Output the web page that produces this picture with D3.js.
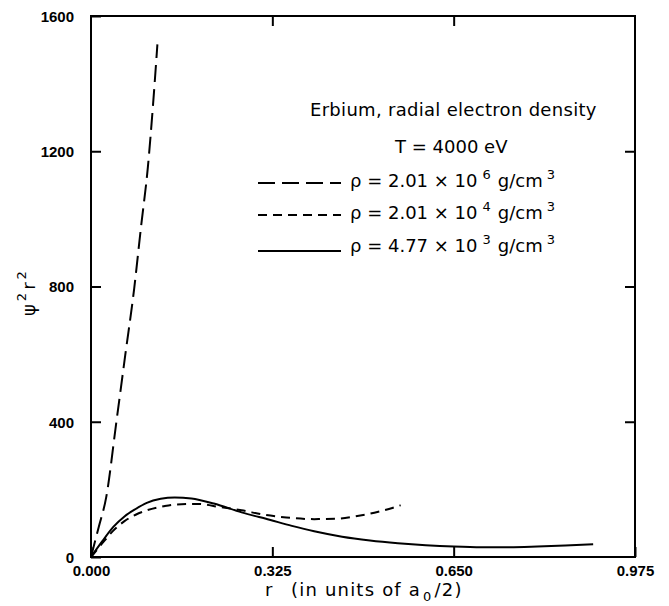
<!DOCTYPE html>
<html>
<head>
<meta charset="utf-8">
<script src="https://cdn.jsdelivr.net/npm/d3@7"></script>
<style>
  html, body { margin: 0; padding: 0; background: #fff; }
  svg { display: block; }
  .tick-label { font-family: "Liberation Sans", Arial, sans-serif; font-weight: bold; font-size: 15px; }
  .note { font-family: "DejaVu Sans", sans-serif; font-size: 18px; }
</style>
</head>
<body>
<svg id="chart" width="669" height="606"></svg>
<script>
// Radial electron density of erbium at T = 4000 eV for three densities
const rHigh   = [0, 0.0139, 0.0273, 0.0452, 0.0613, 0.0774, 0.0899, 0.1018, 0.1113, 0.119];
const yHigh   = [0, 89, 177, 396, 596, 794, 980, 1151, 1340, 1516];

const rMid    = [0, 0.02, 0.04, 0.06, 0.08, 0.10, 0.13, 0.15, 0.19, 0.23, 0.27, 0.31, 0.35, 0.40, 0.44, 0.48, 0.50, 0.52, 0.54, 0.555];
const yMid    = [0, 40, 78, 106, 125, 138, 150, 155, 157, 148, 138, 125, 117, 112, 113, 122, 128, 136, 145, 153];

const rLow    = [0, 0.02, 0.04, 0.06, 0.08, 0.10, 0.125, 0.15, 0.18, 0.22, 0.27, 0.32, 0.36, 0.40, 0.45, 0.50, 0.55, 0.60, 0.65, 0.70, 0.75, 0.80, 0.85, 0.90];
const yLow    = [0, 46, 89, 120, 142, 160, 172, 176, 173, 158, 132, 110, 92, 76, 60, 49, 41, 35, 31, 29, 29, 31, 34, 37.5];

const xTicks  = [0, 0.325, 0.650, 0.975];
const yTicks  = [0, 400, 800, 1200, 1600];

const legendRows = [
  { mant: "2.01", exp: "6", dash: "17,7" },
  { mant: "2.01", exp: "4", dash: "9,6" },
  { mant: "4.77", exp: "3", dash: null }
];

const svg = d3.select("#chart");
const L = 91, R = 635, T = 16, B = 557;

const x = d3.scaleLinear().domain([0, 0.975]).range([L, R]);
const y = d3.scaleLinear().domain([0, 1600]).range([B, T]);

// frame
svg.append("rect")
  .attr("x", L).attr("y", T).attr("width", R - L).attr("height", B - T)
  .attr("fill", "none").attr("stroke", "#000").attr("stroke-width", 2);

// inward ticks on all four sides
const tickLen = 10;
const bottomAxis = d3.axisBottom(x).tickValues(xTicks).tickSize(-tickLen).tickFormat(d3.format(".3f"));
const gB = svg.append("g").attr("transform", `translate(0,${B})`).call(bottomAxis);
const topAxis = d3.axisTop(x).tickValues(xTicks.slice(1, -1)).tickSize(-tickLen).tickFormat("");
const gT = svg.append("g").attr("transform", `translate(0,${T})`).call(topAxis);
const leftAxis = d3.axisLeft(y).tickValues(yTicks).tickSize(-tickLen).tickFormat(d3.format("d"));
const gL = svg.append("g").attr("transform", `translate(${L},0)`).call(leftAxis);
const rightAxis = d3.axisRight(y).tickValues(yTicks.slice(1, -1)).tickSize(-tickLen).tickFormat("");
const gR = svg.append("g").attr("transform", `translate(${R},0)`).call(rightAxis);

[gB, gT, gL, gR].forEach(g => {
  g.select(".domain").remove();
  g.selectAll(".tick line").attr("stroke", "#000").attr("stroke-width", 2);
});

gB.selectAll(".tick text")
  .attr("class", "tick-label").attr("fill", "#000")
  .attr("y", 8).attr("dy", "0.71em");
gL.selectAll(".tick text")
  .attr("class", "tick-label").attr("fill", "#000")
  .attr("x", -17).attr("dy", "0.36em")
  .attr("text-anchor", "end");

// curves
const line = d3.line().x(d => x(d[0])).y(d => y(d[1])).curve(d3.curveMonotoneX);
const series = [
  { r: rHigh, v: yHigh, dash: legendRows[0].dash },
  { r: rMid,  v: yMid,  dash: legendRows[1].dash },
  { r: rLow,  v: yLow,  dash: legendRows[2].dash }
];
series.forEach(s => {
  svg.append("path")
    .datum(s.r.map((r, i) => [r, s.v[i]]))
    .attr("d", line)
    .attr("fill", "none")
    .attr("stroke", "#000")
    .attr("stroke-width", 2)
    .attr("stroke-dasharray", s.dash);
});

// annotation block
svg.append("text").attr("class", "note").attr("letter-spacing", "0.3px")
  .attr("x", 310).attr("y", 116).text("Erbium, radial electron density");
svg.append("text").attr("class", "note")
  .attr("x", 395).attr("y", 153).text("T = 4000 eV");

const rowY = [186.5, 218.5, 251.5];
const lineY = [183, 215, 251];
legendRows.forEach((row, i) => {
  const yy = rowY[i];
  svg.append("line")
    .attr("x1", 258).attr("x2", 341)
    .attr("y1", lineY[i]).attr("y2", lineY[i])
    .attr("stroke", "#000").attr("stroke-width", 2)
    .attr("stroke-dasharray", row.dash);
  const t = svg.append("text").attr("class", "note").attr("x", 350).attr("y", yy);
  t.append("tspan").text(`\u03C1 = ${row.mant} \u00D7 10`);
  t.append("tspan").attr("dx", 5).attr("dy", -8).attr("font-size", "13px").text(row.exp);
  t.append("tspan").attr("dx", 7).attr("dy", 8).text("g/cm");
  t.append("tspan").attr("dx", 4).attr("dy", -8).attr("font-size", "13px").text("3");
});

// axis titles
const xt = svg.append("text").attr("class", "note").attr("y", 596).attr("letter-spacing", "1.2px");
xt.append("tspan").attr("x", 265).text("r");
xt.append("tspan").attr("x", 291).text("(in units of a");
xt.append("tspan").attr("dx", 2).attr("dy", 5).attr("font-size", "13px").text("0");
xt.append("tspan").attr("dx", 2).attr("dy", -5).text("/2)");

const yt = svg.append("text").attr("class", "note")
  .attr("transform", "translate(35,316) rotate(-90)");
yt.append("tspan").text("\u03C8");
yt.append("tspan").attr("dx", 3).attr("dy", -9).attr("font-size", "13px").text("2");
yt.append("tspan").attr("dx", 3).attr("dy", 9).text("r");
yt.append("tspan").attr("dx", 3).attr("dy", -9).attr("font-size", "13px").text("2");
</script>
</body>
</html>
